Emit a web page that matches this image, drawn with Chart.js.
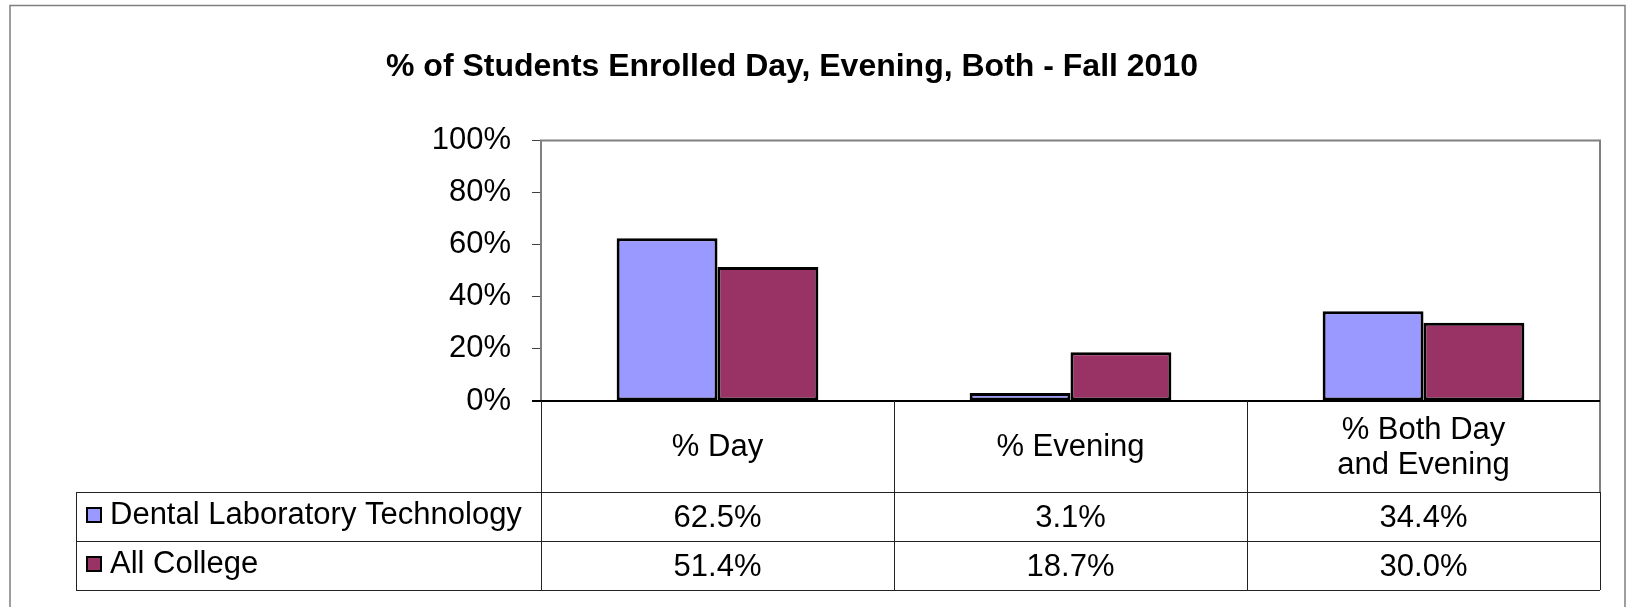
<!DOCTYPE html>
<html>
<head>
<meta charset="utf-8">
<title>% of Students Enrolled Day, Evening, Both - Fall 2010</title>
<script src="https://cdn.jsdelivr.net/npm/chart.js@4.4.1/dist/chart.umd.min.js"></script>
<style>
  html, body { margin: 0; padding: 0; background: #fff; }
  #wrap { width: 1627px; height: 607px; }
</style>
</head>
<body>
<div id="wrap"><canvas id="chart" width="1627" height="607"></canvas></div>
<script>
// chart values
const TITLE = "% of Students Enrolled Day, Evening, Both - Fall 2010";
const CATEGORIES = [["% Day"], ["% Evening"], ["% Both Day", "and Evening"]];
const SERIES_NAMES = ["Dental Laboratory Technology", "All College"];
const DENTAL_LAB = [62.5, 3.1, 34.4];
const ALL_COLLEGE = [51.4, 18.7, 30.0];
const Y_TICKS = [0, 20, 40, 60, 80, 100];
const COLORS = ["#9999ff", "#993366"];

const FONT = "'Liberation Sans', Arial, Helvetica, sans-serif";
const FONT_SIZE = 31;
Chart.defaults.font.family = FONT;
Chart.defaults.color = "#000";

function fmtPct(v) {
  return `${Number(v).toFixed(1)}%`;
}

// draws the frame, plot border and the data table below the plot
const dataTable = {
  id: "dataTable",
  beforeDraw(chart) {
    const { ctx } = chart;
    ctx.save();
    ctx.strokeStyle = "#7f7f7f";
    ctx.lineWidth = 1.5;
    ctx.strokeRect(10, 5.5, 1615, 700);
    ctx.restore();
  },
  afterDraw(chart) {
    const { ctx, chartArea: a } = chart;
    const series = [DENTAL_LAB, ALL_COLLEGE];
    const n = CATEGORIES.length;
    const cw = (a.right - a.left) / n;
    const catBottom = a.bottom + 91;
    const rowH = 49;
    const tableBottom = catBottom + rowH * series.length;
    const legLeft = 76;

    ctx.save();
    // plot area border
    ctx.strokeStyle = "#808080";
    ctx.lineWidth = 2;
    ctx.beginPath();
    ctx.moveTo(a.left, a.bottom);
    ctx.lineTo(a.left, a.top);
    ctx.lineTo(a.right, a.top);
    ctx.lineTo(a.right, catBottom);
    ctx.stroke();

    // baseline
    ctx.strokeStyle = "#000";
    ctx.lineWidth = 2;
    ctx.beginPath();
    ctx.moveTo(a.left - 9, a.bottom);
    ctx.lineTo(a.right, a.bottom);
    ctx.stroke();

    // table grid
    ctx.strokeStyle = "#222";
    ctx.lineWidth = 1;
    ctx.beginPath();
    for (let i = 0; i <= n; i++) {
      const x = Math.round(a.left + i * cw) + 0.5;
      ctx.moveTo(x, i === n ? catBottom : a.bottom);
      ctx.lineTo(x, tableBottom);
    }
    for (let r = 0; r <= series.length; r++) {
      const y = Math.round(catBottom + r * rowH) + 0.5;
      ctx.moveTo(legLeft, y);
      ctx.lineTo(a.right, y);
    }
    ctx.moveTo(legLeft + 0.5, catBottom);
    ctx.lineTo(legLeft + 0.5, tableBottom);
    ctx.stroke();

    // category labels
    ctx.fillStyle = "#000";
    ctx.font = `${FONT_SIZE}px ${FONT}`;
    ctx.textAlign = "center";
    ctx.textBaseline = "middle";
    const bandMid = (a.bottom + catBottom) / 2 + 1;
    const lineH = 35;
    CATEGORIES.forEach((lines, i) => {
      const cx = a.left + (i + 0.5) * cw;
      const y0 = bandMid - ((lines.length - 1) * lineH) / 2;
      lines.forEach((t, k) => ctx.fillText(t, cx, y0 + k * lineH));
    });

    // value rows with legend keys
    series.forEach((vals, r) => {
      const mid = catBottom + (r + 0.5) * rowH;
      const ly = mid - 1.5;
      ctx.fillStyle = COLORS[r];
      ctx.fillRect(86, ly - 8, 16, 16);
      ctx.strokeStyle = "#000";
      ctx.lineWidth = 2;
      ctx.strokeRect(87, ly - 7, 14, 14);
      ctx.fillStyle = "#000";
      ctx.textAlign = "left";
      ctx.fillText(SERIES_NAMES[r], 110, ly);
      ctx.textAlign = "center";
      vals.forEach((v, i) => {
        ctx.fillText(fmtPct(v), a.left + (i + 0.5) * cw, mid + 2);
      });
    });
    ctx.restore();
  },
};

new Chart(document.getElementById("chart"), {
  type: "bar",
  data: {
    labels: CATEGORIES,
    datasets: [
      {
        label: SERIES_NAMES[0],
        data: DENTAL_LAB,
        backgroundColor: COLORS[0],
        borderColor: "#000",
        borderWidth: 3,
        borderSkipped: false,
      },
      {
        label: SERIES_NAMES[1],
        data: ALL_COLLEGE,
        backgroundColor: COLORS[1],
        borderColor: "#000",
        borderWidth: 3,
        borderSkipped: false,
      },
    ],
  },
  options: {
    responsive: false,
    animation: false,
    events: [],
    datasets: { bar: { categoryPercentage: 2 / 3.5, barPercentage: 1 } },
    // negative left padding shifts the title's centre to match the reference
    layout: { padding: { left: -16, right: 27, top: 0, bottom: 206 } },
    plugins: {
      legend: { display: false },
      tooltip: { enabled: false },
      title: {
        display: true,
        text: TITLE,
        color: "#000",
        font: { size: 32, weight: "bold" },
        padding: { top: 48, bottom: 54 },
      },
    },
    scales: {
      x: { display: false },
      y: {
        min: Y_TICKS[0],
        max: Y_TICKS[Y_TICKS.length - 1],
        afterFit: (scale) => {
          scale.width = 557;
        },
        afterBuildTicks: (scale) => {
          scale.ticks = Y_TICKS.map((v) => ({ value: v }));
        },
        ticks: {
          padding: 21,
          color: "#000",
          font: { size: FONT_SIZE },
          callback: (v) => `${v}%`,
        },
        grid: {
          drawOnChartArea: false,
          drawTicks: true,
          tickLength: 9,
          color: "#404040",
          lineWidth: 1,
        },
        border: { display: false },
      },
    },
  },
  plugins: [dataTable],
});
</script>
</body>
</html>
